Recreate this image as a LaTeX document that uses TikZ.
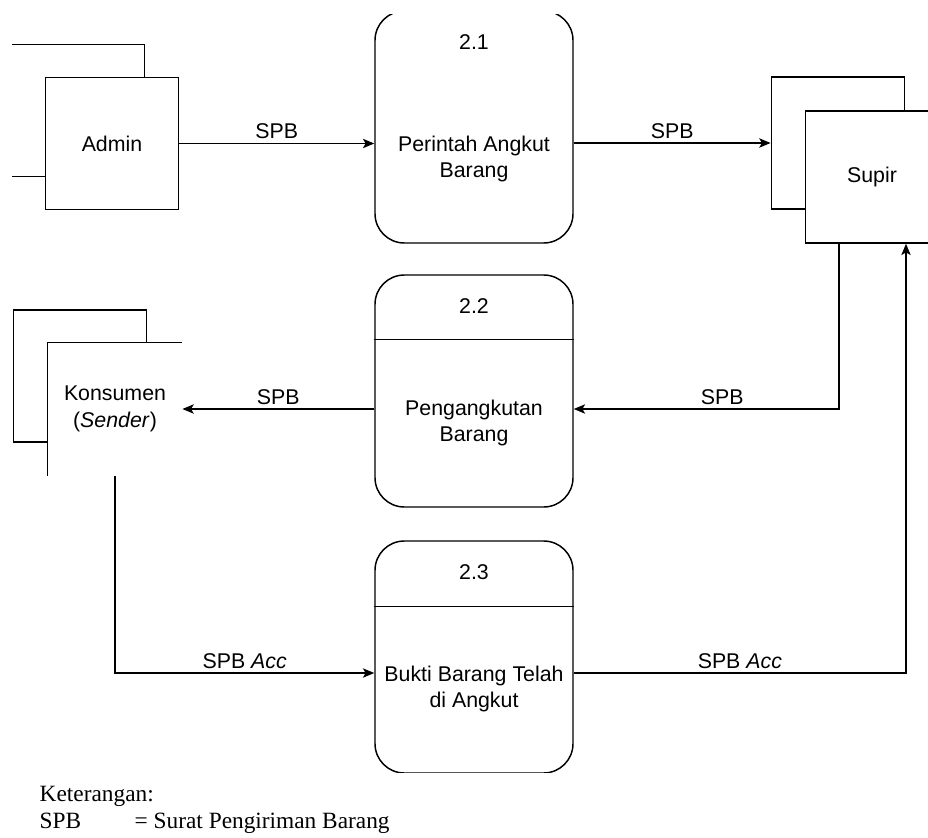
\documentclass[tikz,border=0pt]{standalone}
\usepackage{fontspec}
\setmainfont{Liberation Serif}
\setsansfont{Liberation Sans}
\usetikzlibrary{arrows.meta}
\usetikzlibrary{positioning}

\begin{document}
\begin{tikzpicture}[
  x=0.75pt, y=-0.75pt,
  line width=1.1pt,
  proc/.style={draw, rounded corners=22pt, minimum width=148.5pt, minimum height=174pt},
  ent/.style={draw, fill=white, minimum width=100pt, minimum height=99pt},
  txt/.style={font=\sffamily\fontsize{16}{20}\selectfont, align=center, inner sep=1pt},
  lbl/.style={font=\sffamily\fontsize{16}{20}\selectfont, above=1pt, inner sep=2pt},
  flow/.style={-{Stealth[length=8.5pt, width=7pt, inset=2pt]}},
  ket/.style={font=\fontsize{17.5}{21}\selectfont, anchor=base west, inner sep=0pt}
]
\useasboundingbox (0,0) rectangle (928,838);
\begin{scope}
\clip (12,15) rectangle (928,772);
% entitas luar
\node[ent] (adminb) at (78,110.5) {};
\node[ent, txt] (admin) at (112,143.5) {Admin};
\node[ent] (supirb) at (838,143) {};
\node[ent, txt] (supir) at (872,177) {Supir};
\node[ent] (konsb) at (80,376) {};
\node[ent, txt, draw=none] (kons) at (115,409) {Konsumen\\(\textit{Sender})};
\draw (kons.south west) -- (kons.north west) -- (kons.north east);

% proses
\node[proc] (p21) at (474,127) {};
\node[txt] (n21) at ([yshift=-24pt]p21.north) {2.1};
\node[txt] (b21) at ([yshift=-24pt]p21.center) {Perintah Angkut\\Barang};

\node[proc] (p22) at (474,391) {};
\node[txt] (n22) at ([yshift=-24pt]p22.north) {2.2};
\draw ([yshift=-48.75pt]p22.north west) -- ([yshift=-48.75pt]p22.north east);
\node[txt] (b22) at ([yshift=-24pt]p22.center) {Pengangkutan\\Barang};

\node[proc] (p23) at (474,657) {};
\node[txt] (n23) at ([yshift=-24pt]p23.north) {2.3};
\draw ([yshift=-49.5pt]p23.north west) -- ([yshift=-49.5pt]p23.north east);
\node[txt] (b23) at ([yshift=-24pt]p23.center) {Bukti Barang Telah\\di Angkut};

% aliran data
\draw[flow] (admin.east) -- node[lbl] {SPB} (admin.east -| p21.west);
\draw[flow] (p21.east |- supirb.west) -- node[lbl] {SPB} (supirb.west);
\draw[flow] ([xshift=-24.75pt]supir.south) |- node[lbl, pos=0.72] {SPB} (p22.east |- kons.east);
\draw[flow] (kons.east -| p22.west) -- node[lbl] {SPB} (kons.east);
\draw[flow] (kons.south) |- node[lbl, pos=0.75] {SPB \textit{Acc}} ([yshift=-12pt]p23.west);
\draw[flow] ([yshift=-12pt]p23.east) -| node[lbl, pos=0.25] {SPB \textit{Acc}} ([xshift=25.5pt]supir.south);
\end{scope}

% keterangan
\node[ket] (ket) at (39,801) {Keterangan:};
\node[ket] (spb) at (39,828) {SPB};
\node[ket] (spbarti) at (134,828) {= Surat Pengiriman Barang};
\end{tikzpicture}
\end{document}
